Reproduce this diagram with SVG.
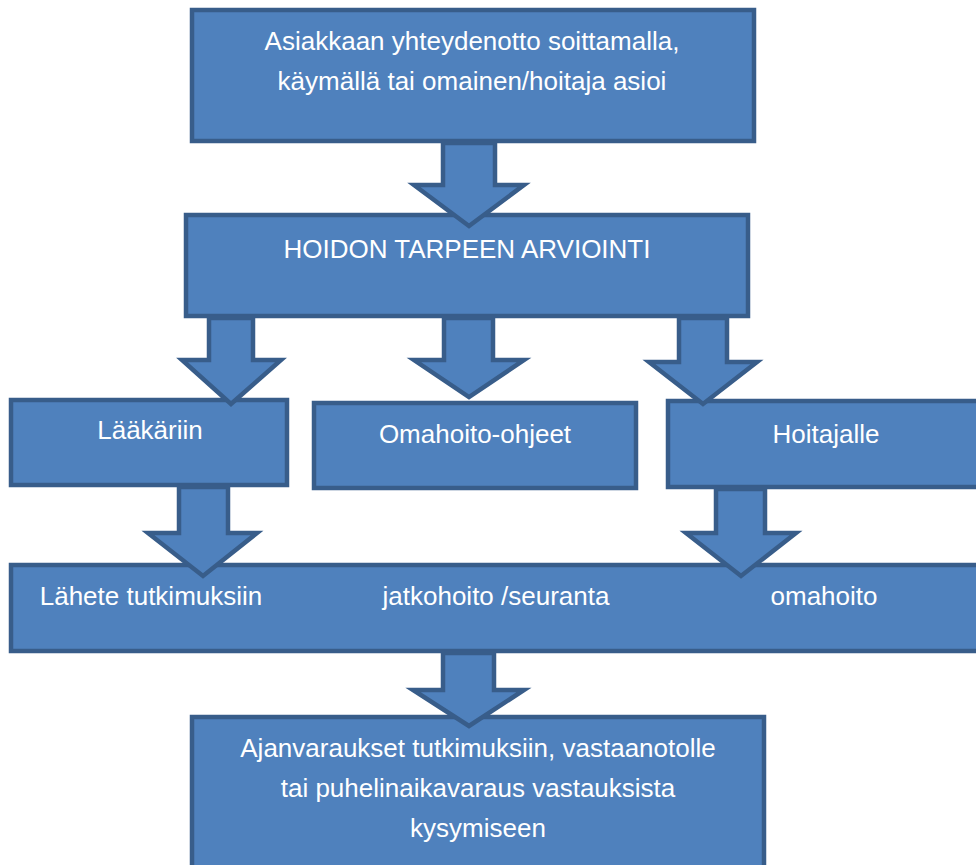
<svg xmlns="http://www.w3.org/2000/svg" width="976" height="865" viewBox="0 0 976 865">
<style>
.box{fill:#4F81BD;stroke:#385D8A;stroke-width:4.5}
.arr{fill:#4F81BD;stroke:#385D8A;stroke-width:4.5;stroke-linejoin:miter}
text{font-family:"Liberation Sans",Arial,sans-serif;font-size:26px;fill:#FFFFFF;text-anchor:middle}
</style>
<rect width="976" height="865" fill="#FFFFFF"/>
<g id="n1"><rect class="box" x="192" y="10" width="562" height="131"/>
<text x="472" y="50">Asiakkaan yhteydenotto soittamalla,</text>
<text x="472" y="90">käymällä tai omainen/hoitaja asioi</text></g>
<g id="n2"><rect class="box" x="186" y="215" width="562" height="101"/>
<text x="467" y="258">HOIDON TARPEEN ARVIOINTI</text></g>
<g id="n3"><rect class="box" x="11" y="400" width="276" height="85"/>
<text x="150" y="439">Lääkäriin</text></g>
<g id="n4"><rect class="box" x="314" y="403" width="322" height="85"/>
<text x="475" y="443">Omahoito-ohjeet</text></g>
<g id="n5"><rect class="box" x="668" y="401" width="320" height="86"/>
<text x="826" y="443">Hoitajalle</text></g>
<g id="n6"><rect class="box" x="11" y="565" width="985" height="86"/>
<text x="151" y="605">Lähete tutkimuksiin</text>
<text x="496" y="605">jatkohoito /seuranta</text>
<text x="824" y="605">omahoito</text></g>
<g id="n7"><rect class="box" x="192" y="717" width="572" height="200"/>
<text x="478" y="757">Ajanvaraukset tutkimuksiin, vastaanotolle</text>
<text x="478" y="797">tai puhelinaikavaraus vastauksista</text>
<text x="478" y="837">kysymiseen</text></g>
<g id="connectors">
<polygon class="arr" points="443,143 495,143 495,185 524,185 469,226 414,185 443,185"/>
<polygon class="arr" points="209,318 253,318 253,360 281,360 231,404 182,360 209,360"/>
<polygon class="arr" points="444,318 493,318 493,360 524,360 469,397 414,360 444,360"/>
<polygon class="arr" points="679,318 727,318 727,362 757,362 703,404 649,362 679,362"/>
<polygon class="arr" points="179,487 228,487 228,533 257,533 203,576 148,533 179,533"/>
<polygon class="arr" points="716,489 765,489 765,533 796,533 741,576 686,533 716,533"/>
<polygon class="arr" points="443,653 494,653 494,690 524,690 469,726 413,690 443,690"/>
</g>
</svg>
